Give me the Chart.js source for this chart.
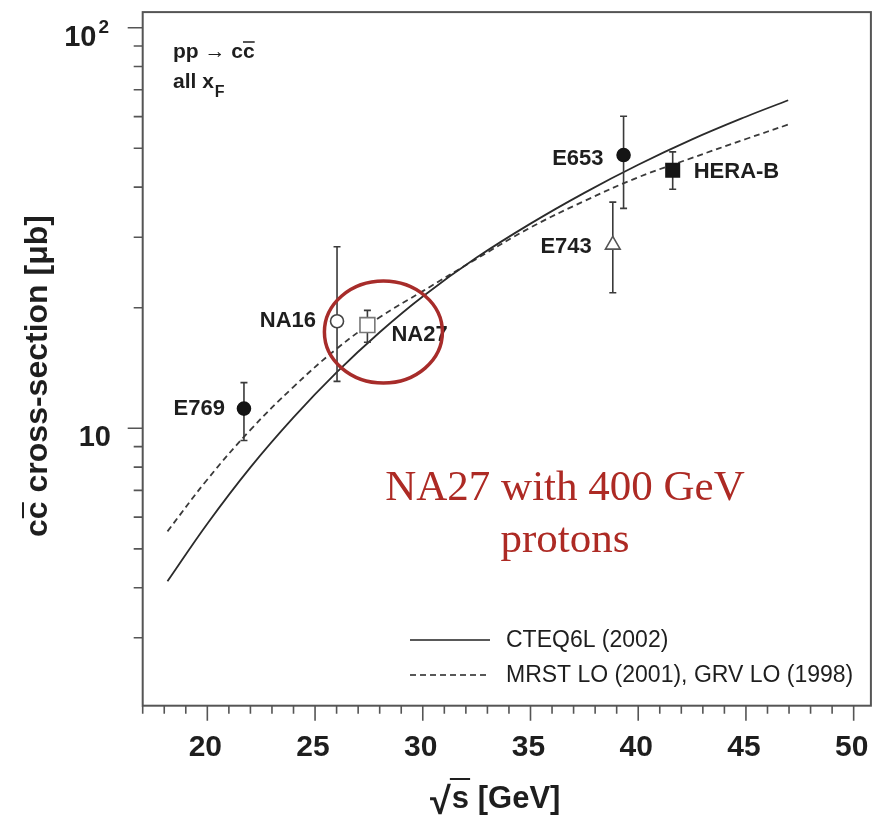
<!DOCTYPE html>
<html>
<head>
<meta charset="utf-8">
<script src="https://cdn.jsdelivr.net/npm/chart.js@4.4.1/dist/chart.umd.min.js"></script>
<style>
  html, body { margin: 0; padding: 0; background: #fff; }
</style>
</head>
<body>
<canvas id="chart" width="883" height="822"></canvas>
<script>
// charm production cross-section vs sqrt(s)

// theory curves (sqrt(s) in GeV, sigma in microbarn)
const curveX = [18.15, 20, 22, 24, 26, 28, 30, 32.5, 35, 37.5, 40, 42.5, 45, 46.96];
const cteqSigma = [4.15, 5.78, 7.99, 10.65, 13.79, 17.37, 21.34, 26.68, 32.43, 38.71, 45.49, 52.63, 59.96, 65.9];
const mrstSigma = [5.53, 7.45, 9.91, 12.69, 15.79, 18.93, 22.0, 26.5, 31.71, 36.93, 42.33, 47.32, 52.75, 57.3];

// measurements
const expNames = ['E769', 'NA16', 'NA27', 'E743', 'E653', 'HERA-B'];
const expSqrtS = [21.70, 26.02, 27.43, 38.82, 39.32, 41.60];
const expSigma = [11.2, 18.5, 18.1, 28.7, 48.1, 44.1];
const expLow = [9.32, 13.1, 16.4, 21.8, 35.4, 39.5];
const expHigh = [13.0, 28.4, 19.7, 36.7, 60.1, 49.0];

// axis ticks
const xTickLabels = [20, 25, 30, 35, 40, 45, 50];
const yTickLabels = [10, 100];

// marker looks
const markerStyle = ['circle', 'circle', 'rect', 'triangle', 'circle', 'rect'];
const markerRadius = [6.5, 6.5, 10.5, 8.5, 6.5, 9.5];
const markerFill = ['#151515', '#fff', '#fff', '#fff', '#151515', '#151515'];
const markerEdge = ['#151515', '#444', '#777', '#555', '#151515', '#151515'];
// label offsets [dx, dy, align] relative to marker
const labelPos = [[-19, 0, 'right'], [-21, 0, 'right'], [24, 10, 'left'], [-21, 2, 'right'], [-20, 4, 'right'], [21, 2, 'left']];

const SANS = "'Liberation Sans', Arial, sans-serif";
const INK = '#1e1e1e';
const AXIS = '#555';

const decorPlugin = {
    id: 'decor',
    // error bars under the markers
    beforeDatasetDraw(chart, args) {
        if (args.index !== 2) return;
        const { ctx } = chart;
        const x = chart.scales.x, y = chart.scales.y;
        ctx.save();
        ctx.strokeStyle = '#3a3a3a';
        ctx.lineWidth = 1.6;
        expSqrtS.forEach((v, i) => {
            const px = x.getPixelForValue(v);
            const top = y.getPixelForValue(expHigh[i]);
            const bot = y.getPixelForValue(expLow[i]);
            ctx.beginPath();
            ctx.moveTo(px, top); ctx.lineTo(px, bot);
            ctx.moveTo(px - 3.5, top); ctx.lineTo(px + 3.5, top);
            ctx.moveTo(px - 3.5, bot); ctx.lineTo(px + 3.5, bot);
            ctx.stroke();
        });
        ctx.restore();
    },
    afterDraw(chart) {
        const { ctx, chartArea: a } = chart;
        const x = chart.scales.x, y = chart.scales.y;
        ctx.save();

        // frame
        ctx.strokeStyle = AXIS;
        ctx.lineWidth = 2;
        ctx.strokeRect(a.left, a.top, a.right - a.left, a.bottom - a.top);

        // tick marks, pointing outwards
        ctx.lineWidth = 1.6;
        ctx.beginPath();
        for (let v = 17; v <= 50; v++) {
            const px = x.getPixelForValue(v);
            const len = v % 5 === 0 ? 15 : 8;
            ctx.moveTo(px, a.bottom); ctx.lineTo(px, a.bottom + len);
        }
        [1, 10].forEach(d => {
            for (let m = 1; m <= 10; m++) {
                const v = m * d;
                if (v < y.min || v > y.max) continue;
                const py = y.getPixelForValue(v);
                const len = (v === 10 || v === 100) ? 15 : 9;
                ctx.moveTo(a.left, py); ctx.lineTo(a.left - len, py);
            }
        });
        ctx.stroke();

        // x tick labels
        ctx.fillStyle = INK;
        ctx.textBaseline = 'alphabetic';
        ctx.textAlign = 'center';
        ctx.font = 'bold 30px ' + SANS;
        xTickLabels.forEach(v => {
            ctx.fillText(String(v), x.getPixelForValue(v) - 2, 756);
        });

        // y tick labels (10, 10^2)
        yTickLabels.forEach(v => {
            const py = y.getPixelForValue(v) + 18;
            const exp = Math.round(Math.log10(v));
            ctx.textAlign = 'right';
            if (exp === 1) {
                ctx.font = 'bold 29px ' + SANS;
                ctx.fillText('10', 111, py);
            } else {
                ctx.font = 'bold 19px ' + SANS;
                const w = ctx.measureText(String(exp)).width;
                ctx.fillText(String(exp), 109, py - 13);
                ctx.font = 'bold 29px ' + SANS;
                ctx.fillText('10', 109 - w - 2, py);
            }
        });

        // x title: sqrt(s) [GeV]
        ctx.textAlign = 'left';
        const xt0 = 430, xtBase = 808;
        ctx.font = 'bold 38px ' + SANS;
        const wRad = ctx.measureText('\u221A').width;
        ctx.fillText('\u221A', xt0, xtBase + 6);
        ctx.font = 'bold 31px ' + SANS;
        const wS = ctx.measureText('s').width;
        ctx.fillText('s [GeV]', xt0 + wRad + 1, xtBase);
        ctx.strokeStyle = INK;
        ctx.lineWidth = 2;
        ctx.beginPath();
        ctx.moveTo(xt0 + wRad - 1, xtBase - 29);
        ctx.lineTo(xt0 + wRad + wS + 2, xtBase - 29);
        ctx.stroke();

        // y title, rotated
        ctx.save();
        ctx.translate(47, 376);
        ctx.rotate(-Math.PI / 2);
        ctx.font = 'bold 32px ' + SANS;
        const yTitle = 'cc cross-section [\u03BCb]';
        const wT = ctx.measureText(yTitle).width;
        const wc = ctx.measureText('c').width;
        ctx.textAlign = 'left';
        ctx.fillText(yTitle, -wT / 2, 0);
        ctx.beginPath();
        ctx.moveTo(-wT / 2 + wc + 1, -24);
        ctx.lineTo(-wT / 2 + 2 * wc - 1, -24);
        ctx.stroke();
        ctx.restore();

        // process note in top-left corner
        ctx.font = 'bold 21px ' + SANS;
        ctx.textAlign = 'left';
        const pp = 'pp \u2192 cc';
        ctx.fillText(pp, 173, 58);
        const wpp = ctx.measureText(pp).width;
        const wc2 = ctx.measureText('c').width;
        ctx.lineWidth = 1.5;
        ctx.beginPath();
        ctx.moveTo(173 + wpp - wc2, 42);
        ctx.lineTo(173 + wpp, 42);
        ctx.stroke();
        ctx.fillText('all x', 173, 88);
        const wx = ctx.measureText('all x').width;
        ctx.font = 'bold 16px ' + SANS;
        ctx.fillText('F', 173 + wx + 1, 97);

        // experiment labels
        ctx.font = 'bold 22px ' + SANS;
        ctx.textBaseline = 'middle';
        expNames.forEach((name, i) => {
            const px = x.getPixelForValue(expSqrtS[i]);
            const py = y.getPixelForValue(expSigma[i]);
            ctx.textAlign = labelPos[i][2];
            ctx.fillText(name, px + labelPos[i][0], py + labelPos[i][1]);
        });

        // legend
        ctx.font = '23px ' + SANS;
        ctx.textAlign = 'left';
        const legendY = [640, 675];
        chart.data.datasets.slice(0, 2).forEach((ds, i) => {
            ctx.strokeStyle = '#222';
            ctx.lineWidth = 1.5;
            ctx.setLineDash(ds.borderDash || []);
            ctx.beginPath();
            ctx.moveTo(410, legendY[i]);
            ctx.lineTo(490, legendY[i]);
            ctx.stroke();
            ctx.setLineDash([]);
            ctx.fillStyle = INK;
            ctx.fillText(ds.label, 506, legendY[i] + 1);
        });

        // red highlight around NA27
        const cx = x.getPixelForValue(expSqrtS[2]) + 16;
        const cy = y.getPixelForValue(expSigma[2]) + 7;
        ctx.strokeStyle = '#a72c2a';
        ctx.lineWidth = 3.5;
        ctx.beginPath();
        ctx.ellipse(cx, cy, 59, 51, 0, 0, Math.PI * 2);
        ctx.stroke();

        ctx.fillStyle = '#ad2a24';
        ctx.font = "43px 'Liberation Serif', 'Times New Roman', serif";
        ctx.textAlign = 'center';
        ctx.textBaseline = 'alphabetic';
        ctx.fillText('NA27 with 400 GeV', 565, 500);
        ctx.fillText('protons', 565, 552);

        ctx.restore();
    }
};

const chartCtx = document.getElementById('chart').getContext('2d');
new Chart(chartCtx, {
    type: 'line',
    data: {
        datasets: [{
            label: 'CTEQ6L (2002)',
            data: curveX.map((v, i) => ({ x: v, y: cteqSigma[i] })),
            borderColor: '#2b2b2b',
            borderWidth: 1.8,
            pointRadius: 0,
            tension: 0.4,
            fill: false,
            order: 1
        }, {
            label: 'MRST LO (2001), GRV LO (1998)',
            data: curveX.map((v, i) => ({ x: v, y: mrstSigma[i] })),
            borderColor: '#3a3a3a',
            borderWidth: 1.8,
            borderDash: [6, 4],
            pointRadius: 0,
            tension: 0.4,
            fill: false,
            order: 1
        }, {
            type: 'scatter',
            label: 'data',
            data: expSqrtS.map((v, i) => ({ x: v, y: expSigma[i] })),
            pointStyle: markerStyle,
            pointRadius: markerRadius,
            pointBackgroundColor: markerFill,
            pointBorderColor: markerEdge,
            pointBorderWidth: 1.6,
            showLine: false,
            order: 0
        }]
    },
    options: {
        responsive: false,
        animation: false,
        layout: { padding: { top: 10, right: 7, left: 0, bottom: 0 } },
        plugins: {
            legend: { display: false },
            tooltip: { enabled: false }
        },
        scales: {
            x: {
                type: 'linear',
                min: 17,
                max: 50.8,
                afterFit(s) { s.height = 116.3; },
                grid: { display: false },
                border: { display: false },
                ticks: { display: false }
            },
            y: {
                type: 'logarithmic',
                min: 2.03,
                max: 109.4,
                afterFit(s) { s.width = 142.7; },
                grid: { display: false },
                border: { display: false },
                ticks: { display: false }
            }
        }
    },
    plugins: [decorPlugin]
});
</script>
</body>
</html>
